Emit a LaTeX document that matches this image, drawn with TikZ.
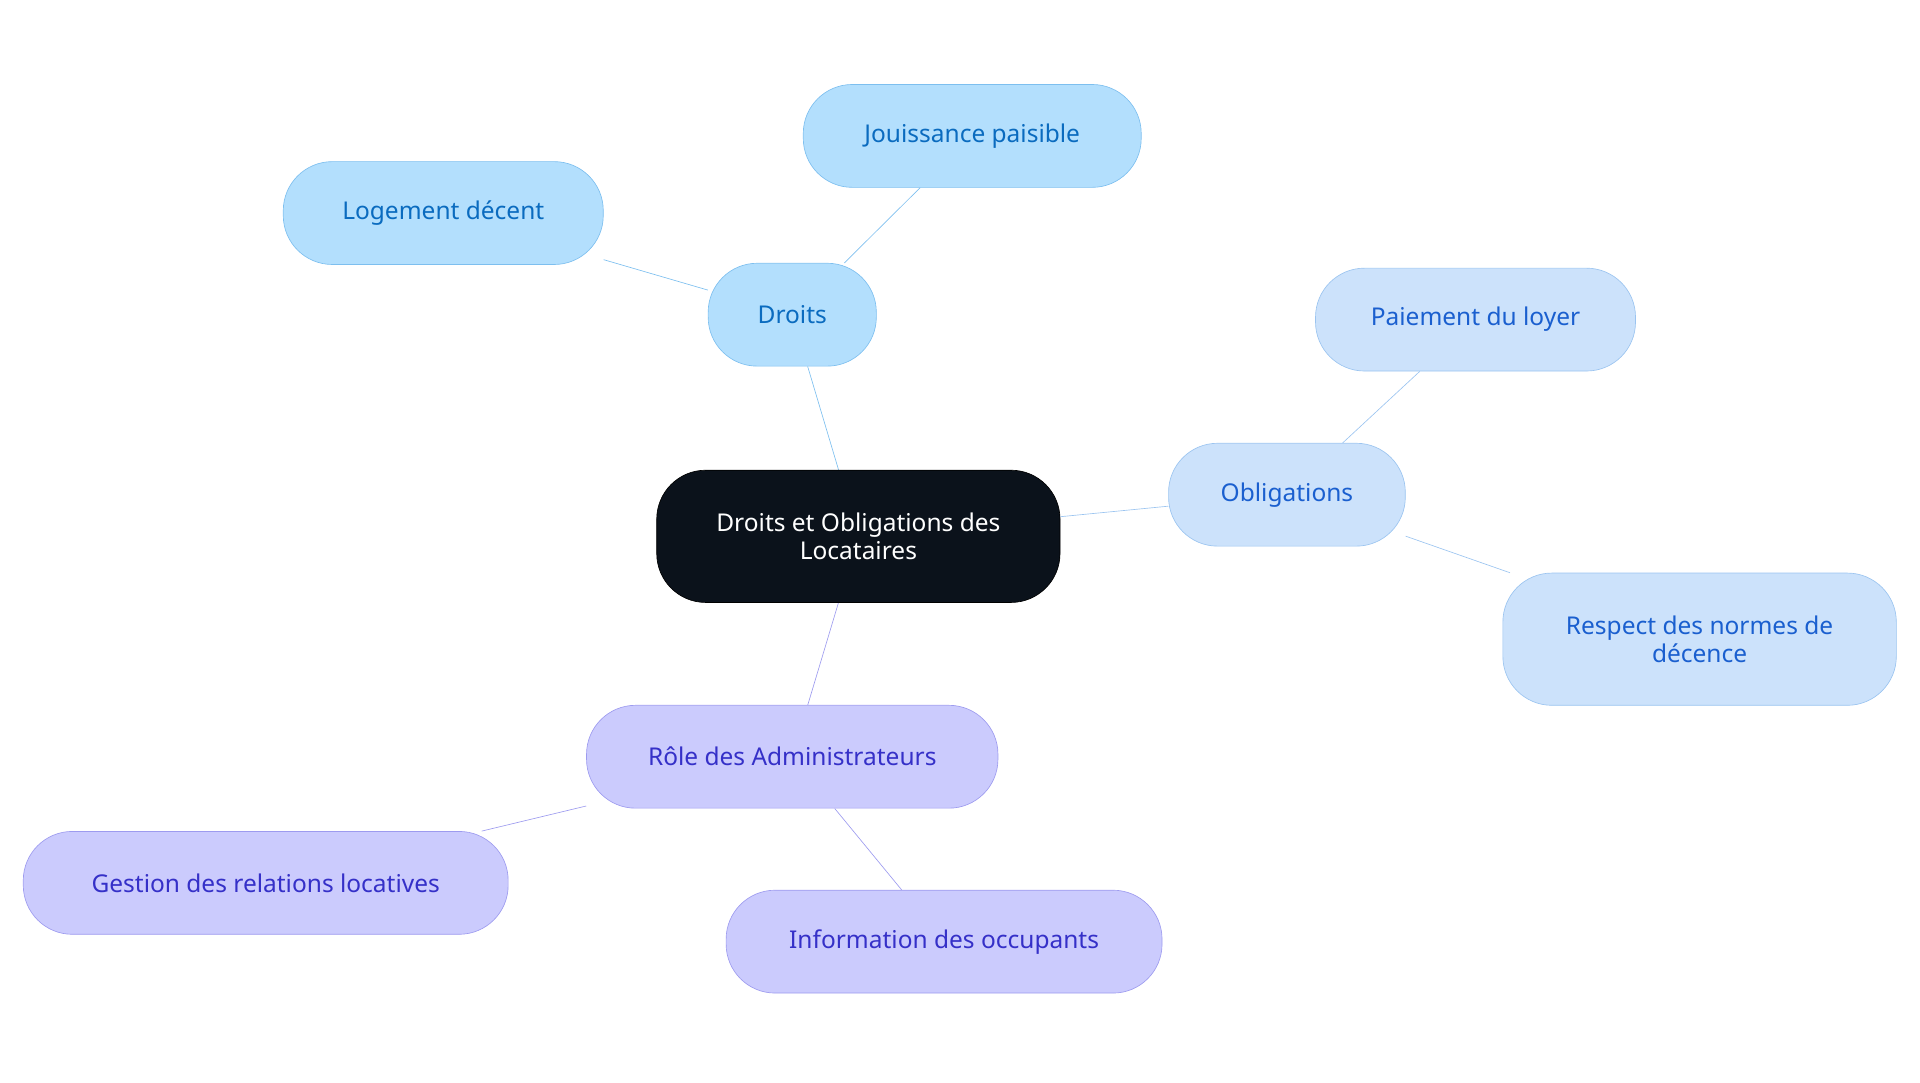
\documentclass[tikz,border=0pt]{standalone}
\usepackage{fontspec}
\setmainfont{Noto Sans}
\usetikzlibrary{backgrounds}
\definecolor{rootfill}{HTML}{0B121B}
\definecolor{dfill}{HTML}{B3DFFD}\definecolor{dline}{HTML}{7DBFEF}\definecolor{dtext}{HTML}{0A6BBF}
\definecolor{ofill}{HTML}{CCE2FB}\definecolor{oline}{HTML}{9BC4F0}\definecolor{otext}{HTML}{1A5FCF}
\definecolor{rfill}{HTML}{CBCBFD}\definecolor{rline}{HTML}{9D9BEF}\definecolor{rtext}{HTML}{3530C8}
\tikzset{
	box/.style={rounded corners=30pt, minimum height=63pt, align=center, font=\fontsize{15}{17}\selectfont, inner sep=0pt},
	droit/.style={box, fill=dfill, draw=dline, text=dtext},
	oblig/.style={box, fill=ofill, draw=oline, text=otext},
	role/.style={box, fill=rfill, draw=rline, text=rtext},
}
\begin{document}
\begin{tikzpicture}[x=0.75pt,y=-0.75pt]
	\useasboundingbox (0,0) rectangle (1568,884);

	\node[box, fill=rootfill, draw=black, text=white, minimum width=247pt, minimum height=81pt] (root) at (701,438) {Droits et Obligations des\\Locataires};

	\node[droit, minimum width=103pt] (droits) at (647,257) {Droits};
	\node[droit, minimum width=196pt] (logement) at (362,174) {Logement décent};
	\node[droit, minimum width=207pt] (jouissance) at (794,111) {Jouissance paisible};

	\node[oblig, minimum width=145pt] (oblig) at (1051,404) {Obligations};
	\node[oblig, minimum width=196pt] (loyer) at (1205,261) {Paiement du loyer};
	\node[oblig, minimum width=241pt, minimum height=81pt] (normes) at (1388,522) {Respect des normes de\\décence};

	\node[role, minimum width=252pt] (admin) at (647,618) {Rôle des Administrateurs};
	\node[role, minimum width=297pt] (gestion) at (217,721) {Gestion des relations locatives};
	\node[role, minimum width=267pt] (info) at (771,769) {Information des occupants};

	\begin{scope}[on background layer, line width=2pt]
	\draw[dline] (root) -- (droits);
	\draw[dline] (droits) -- (logement);
	\draw[dline] (droits) -- (jouissance);
	\draw[oline] (root) -- (oblig);
	\draw[oline] (oblig) -- (loyer);
	\draw[oline] (oblig) -- (normes);
	\draw[rline] (root) -- (admin);
	\draw[rline] (admin) -- (gestion);
	\draw[rline] (admin) -- (info);
	\end{scope}
\end{tikzpicture}
\end{document}
